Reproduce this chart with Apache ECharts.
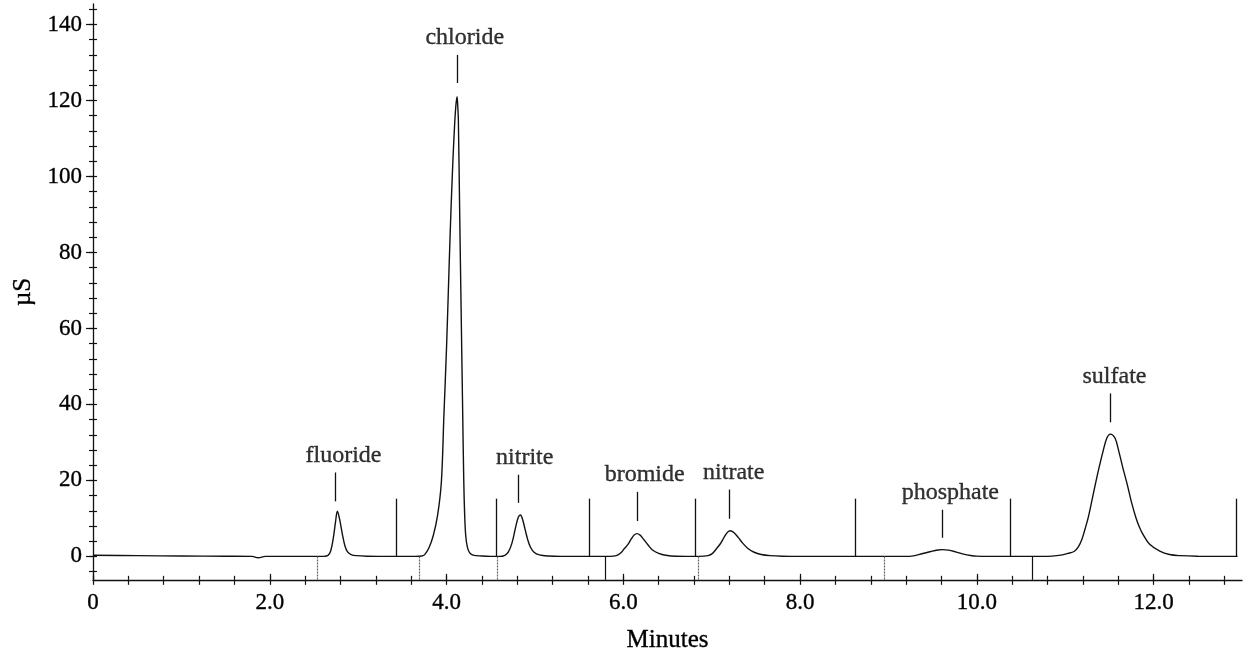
<!DOCTYPE html>
<html>
<head>
<meta charset="utf-8">
<script src="https://cdn.jsdelivr.net/npm/echarts@6/dist/echarts.min.js"></script>
<style>
html,body{margin:0;padding:0;background:#fff;}
#chart{width:1244px;height:658px;}
</style>
</head>
<body>
<div id="chart"></div>
<script>
// ---- chromatogram trace (minutes, µS) ----
const traceTime = [
  0, 0.5, 1.0, 1.5, 1.8, 1.87, 1.95, 2.3, 2.62,
  2.66, 2.69, 2.72, 2.745, 2.765, 2.79, 2.82, 2.85, 2.88, 2.92, 2.98, 3.1, 3.4, 3.65,
  3.72, 3.75, 3.8, 3.85, 3.9, 3.942, 3.97, 4.0, 4.03, 4.05, 4.07, 4.09, 4.105, 4.119,
  4.128, 4.134, 4.149, 4.165, 4.18, 4.195, 4.205, 4.217, 4.235, 4.26, 4.3, 4.4, 4.5,
  4.6, 4.66, 4.7, 4.74, 4.78, 4.81, 4.835, 4.86, 4.89, 4.92, 4.95, 4.99, 5.05, 5.15, 5.3, 5.85,
  5.92, 5.97, 6.01, 6.05, 6.09, 6.12, 6.155, 6.19, 6.23, 6.28, 6.33, 6.4, 6.48, 6.6, 6.85,
  6.96, 7.01, 7.06, 7.1, 7.14, 7.18, 7.21, 7.25, 7.3, 7.35, 7.41, 7.48, 7.56, 7.66, 7.8, 8.0, 9.2,
  9.28, 9.38, 9.48, 9.56, 9.61, 9.68, 9.76, 9.85, 9.93, 10.0, 10.1, 10.75,
  10.85, 10.95, 11.03, 11.1, 11.15, 11.19, 11.225, 11.26, 11.3, 11.34, 11.382, 11.427, 11.47, 11.51,
  11.564, 11.607, 11.652, 11.702, 11.747, 11.8, 11.84, 11.88, 11.955, 12.07, 12.18, 12.3, 12.5, 12.95
];
const traceSignal = [
  0.3, 0.2, 0.1, 0.05, 0, -0.35, 0, 0, 0.03,
  0.3, 1.5, 5, 9.3, 11.9, 9.8, 6, 2.8, 1.2, 0.5, 0.2, 0.05, 0, 0,
  0.1, 0.4, 2.2, 5.5, 11, 19.8, 37, 55, 77, 91, 103, 113, 118.5, 121,
  118, 114.7, 90, 65, 42, 19.8, 11, 5.5, 2.5, 1, 0.35, 0.1, 0,
  0, 0.3, 1.2, 3.5, 7.5, 10.2, 10.9, 9.8, 7, 4.3, 2.4, 1.1, 0.4, 0.1, 0, 0,
  0.2, 0.9, 2, 3.1, 4.6, 5.6, 6.0, 5.6, 4.5, 3, 1.7, 0.8, 0.3, 0.05, 0,
  0.2, 0.8, 2.2, 3.4, 5, 6.4, 6.75, 6.3, 5, 3.5, 2.1, 1.1, 0.5, 0.2, 0.05, 0, 0,
  0.15, 0.7, 1.3, 1.7, 1.8, 1.65, 1.2, 0.6, 0.25, 0.08, 0, 0,
  0.08, 0.35, 0.8, 1.3, 2.6, 4.6, 7.3, 10.2, 14.5, 18.9, 23.3, 27.6, 31.1, 32.2,
  31.1, 27.6, 23.3, 18.9, 14.5, 10.2, 7.7, 5.8, 3.2, 1.4, 0.5, 0.2, 0.05, 0
];

// ---- peak labels ----
const peakNames    = ['fluoride', 'chloride', 'nitrite', 'bromide', 'nitrate', 'phosphate', 'sulfate'];
const peakMarkTime = [2.745, 4.123, 4.813, 6.155, 7.204, 9.61, 11.505];
const peakMarkTop  = [22.1, 132.0, 21.5, 17.0, 17.6, 12.3, 42.9];
const peakMarkBot  = [14.5, 124.6, 14.1, 9.3, 9.9, 4.9, 35.3];
const labelTime    = [2.834, 4.206, 4.885, 6.242, 7.249, 9.70, 11.557];
const labelSignal  = [26.5, 136.5, 25.9, 21.5, 22.0, 16.7, 47.2];

// ---- integration window marks ----
const windowTimes = [3.433, 4.557, 5.62, 6.811, 8.626, 10.379, 12.931];
const windowTop = 15.2;
const baseMarkTimes = [2.54, 3.686, 4.571, 5.801, 6.85, 8.954, 10.628];
const baseMarkDotted = [true, true, true, false, true, true, false];

// ---- axes ----
const xMin = 0, xMax = 13.0;
const yMin = -6.16, yMax = 145.4;
const xLabelValues = [0, 2, 4, 6, 8, 10, 12];
const xTickValues = [0, 0.4, 0.8, 1.2, 1.6, 2, 2.4, 2.8, 3.2, 3.6, 4, 4.4, 4.8, 5.2, 5.6, 6, 6.4, 6.8, 7.2, 7.6, 8, 8.4, 8.8, 9.2, 9.6, 10, 10.4, 10.8, 11.2, 11.6, 12, 12.4, 12.8];
const yLabelValues = [0, 20, 40, 60, 80, 100, 120, 140];
const yTickValues = [-4, 0, 4, 8, 12, 16, 20, 24, 28, 32, 36, 40, 44, 48, 52, 56, 60, 64, 68, 72, 76, 80, 84, 88, 92, 96, 100, 104, 108, 112, 116, 120, 124, 128, 132, 136, 140, 144];

const FONT = 'Liberation Serif';
const INK = '#111';
const TXT = {fontFamily: FONT, color: '#000', textBorderColor: '#000', textBorderWidth: 0.35};

const chart = echarts.init(document.getElementById('chart'), null, {renderer: 'canvas'});

const traceData = traceTime.map((t, i) => [t, traceSignal[i]]);

const markLines = [];
peakMarkTime.forEach((t, i) => {
  markLines.push([{coord: [t, peakMarkBot[i]], lineStyle: {color: INK, width: 1.3, type: 'solid'}}, {coord: [t, peakMarkTop[i]]}]);
});
windowTimes.forEach((t) => {
  markLines.push([{coord: [t, 0], lineStyle: {color: INK, width: 1.3, type: 'solid'}}, {coord: [t, windowTop]}]);
});
baseMarkTimes.forEach((t, i) => {
  markLines.push([{coord: [t, 0], lineStyle: baseMarkDotted[i] ? {color: '#666', width: 1.2, type: [2, 1]} : {color: INK, width: 1.2, type: 'solid'}}, {coord: [t, yMin]}]);
});

const labelData = labelTime.map((t, i) => [t, labelSignal[i], peakNames[i]]);

function xAxisBase(extra, lineShow) {
  return Object.assign({
    type: 'value', min: xMin, max: xMax, position: 'bottom', gridIndex: 0,
    splitLine: {show: false},
    axisLine: {show: lineShow, onZero: false, lineStyle: {color: INK, width: 1.3}},
    axisLabel: {show: false},
    axisTick: {show: false}
  }, extra);
}
function yAxisBase(extra, lineShow) {
  return Object.assign({
    type: 'value', min: yMin, max: yMax, position: 'left', gridIndex: 0,
    splitLine: {show: false},
    axisLine: {show: lineShow, onZero: false, lineStyle: {color: INK, width: 1.3}},
    axisLabel: {show: false},
    axisTick: {show: false}
  }, extra);
}

const option = {
  animation: false,
  backgroundColor: '#fff',
  grid: {left: 93, right: 2, top: 4, bottom: 76, containLabel: false},
  xAxis: [
    xAxisBase({
      name: 'Minutes', nameLocation: 'middle', nameGap: 48,
      nameTextStyle: Object.assign({fontSize: 25}, TXT),
      axisLabel: Object.assign({show: true, customValues: xLabelValues, margin: 12, fontSize: 23,
        formatter: v => (v === 0 ? '0' : v.toFixed(1))}, TXT),
      axisTick: {show: true, customValues: xTickValues, inside: false, length: 5, lineStyle: {color: INK, width: 1.2}}
    }, true),
    xAxisBase({
      axisTick: {show: true, customValues: xTickValues, inside: true, length: 4, lineStyle: {color: INK, width: 1.2}}
    }, false),
    xAxisBase({
      axisTick: {show: true, customValues: xLabelValues, inside: true, length: 6, lineStyle: {color: INK, width: 1.2}}
    }, false)
  ],
  yAxis: [
    yAxisBase({
      name: 'µS', nameLocation: 'middle', nameGap: 57,
      nameTextStyle: Object.assign({fontSize: 25}, TXT),
      axisLabel: Object.assign({show: true, customValues: yLabelValues, margin: 11, fontSize: 23}, TXT),
      axisTick: {show: true, customValues: yTickValues, inside: false, length: 4, lineStyle: {color: INK, width: 1.2}}
    }, true),
    yAxisBase({
      axisTick: {show: true, customValues: yTickValues, inside: true, length: 4, lineStyle: {color: INK, width: 1.2}}
    }, false),
    yAxisBase({
      axisTick: {show: true, customValues: yLabelValues, inside: false, length: 7, lineStyle: {color: INK, width: 1.2}}
    }, false)
  ],
  series: [
    {
      type: 'line', xAxisIndex: 0, yAxisIndex: 0,
      data: traceData, showSymbol: false, symbol: 'none',
      smooth: 0.35,
      lineStyle: {color: INK, width: 1.4},
      silent: true,
      markLine: {silent: true, symbol: ['none', 'none'], label: {show: false}, animation: false, data: markLines}
    },
    {
      type: 'scatter', xAxisIndex: 0, yAxisIndex: 0,
      data: labelData, symbolSize: 1, itemStyle: {color: 'rgba(0,0,0,0)'},
      silent: true,
      label: Object.assign({show: true, position: 'inside', formatter: p => p.data[2], fontSize: 24, textShadowBlur: 0}, TXT)
    }
  ]
};
chart.setOption(option);
</script>
</body>
</html>
